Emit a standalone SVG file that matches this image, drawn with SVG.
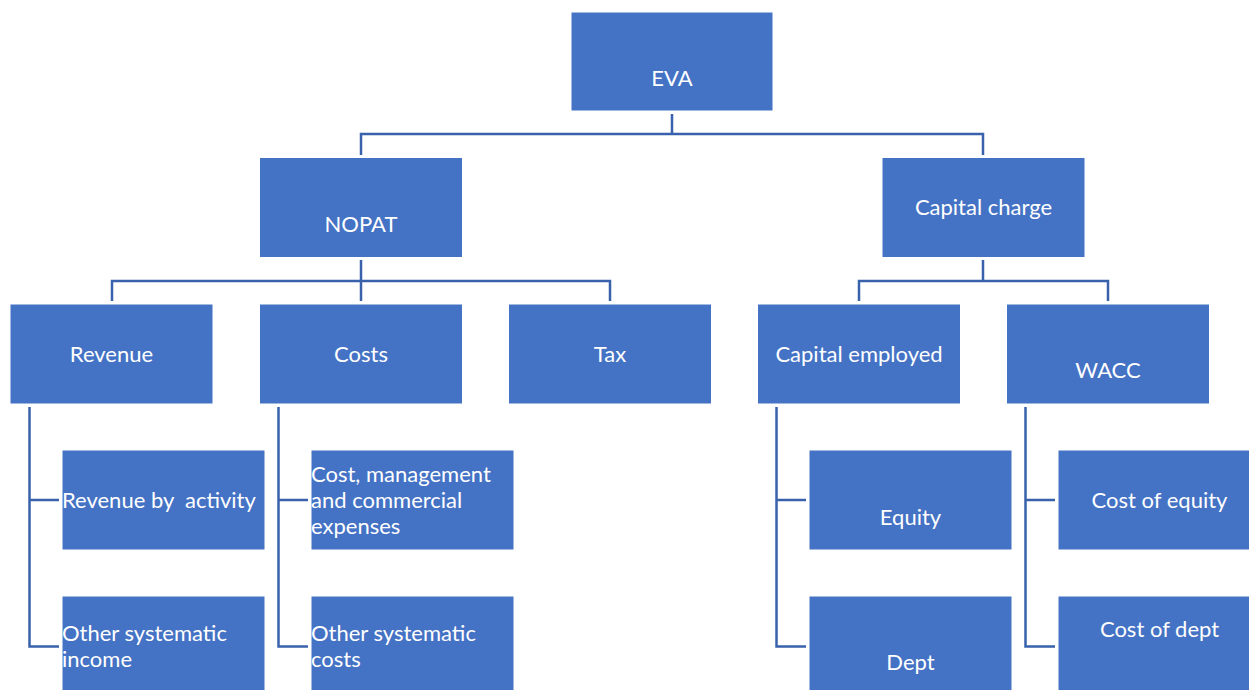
<svg xmlns="http://www.w3.org/2000/svg" width="1249" height="690" viewBox="0 0 1249 690">
  <style>
    .box { fill: #4472C4; stroke: #ffffff; stroke-width: 1; }
    .lbl { fill: #ffffff; font-family: Lato, "Open Sans", "Liberation Sans", sans-serif; font-size: 22px; white-space: pre; }
    .c { text-anchor: middle; }
    .wire { fill: none; stroke: #3A62AC; stroke-width: 2.5; }
  </style>
  <rect width="1249" height="690" fill="#ffffff"/>

  <!-- connectors -->
  <g id="connectors">
    <path class="wire" d="M672,114 V134 M361,155 V134 H983 V155"/>
    <path class="wire" d="M361,260 V301 M112,301 V281 H610 V301"/>
    <path class="wire" d="M983,260 V281 M859,301 V281 H1108 V301"/>
    <path class="wire" d="M29.5,407 V646.5 H59 M29.5,500 H59"/>
    <path class="wire" d="M278.5,407 V646.5 H308 M278.5,500 H308"/>
    <path class="wire" d="M776.5,407 V646.5 H806 M776.5,500 H806"/>
    <path class="wire" d="M1025.5,407 V646.5 H1055 M1025.5,500 H1055"/>
  </g>

  <!-- level 0 -->
  <g id="eva">
    <rect class="box" x="571" y="12" width="202" height="99"/>
    <text class="lbl c" x="672" y="86">EVA</text>
  </g>

  <!-- level 1 -->
  <g id="nopat">
    <rect class="box" x="259.5" y="157.5" width="203" height="100"/>
    <text class="lbl c" x="361" y="232">NOPAT</text>
  </g>
  <g id="capital-charge">
    <rect class="box" x="882" y="157.5" width="203" height="100"/>
    <text class="lbl c" x="983.5" y="215">Capital charge</text>
  </g>

  <!-- level 2 -->
  <g id="revenue">
    <rect class="box" x="10" y="304" width="203" height="100"/>
    <text class="lbl c" x="111.5" y="361.5">Revenue</text>
  </g>
  <g id="costs">
    <rect class="box" x="259.5" y="304" width="203" height="100"/>
    <text class="lbl c" x="361" y="361.5">Costs</text>
  </g>
  <g id="tax">
    <rect class="box" x="508.5" y="304" width="203" height="100"/>
    <text class="lbl c" x="610" y="361.5">Tax</text>
  </g>
  <g id="capital-employed">
    <rect class="box" x="757.5" y="304" width="203" height="100"/>
    <text class="lbl c" x="859" y="361.5">Capital employed</text>
  </g>
  <g id="wacc">
    <rect class="box" x="1006.5" y="304" width="203" height="100"/>
    <text class="lbl c" x="1108" y="378">WACC</text>
  </g>

  <!-- level 3 -->
  <g id="revenue-by-activity">
    <rect class="box" x="62" y="450" width="203" height="100"/>
    <text class="lbl" x="62" y="507.5">Revenue by  activity</text>
  </g>
  <g id="other-income">
    <rect class="box" x="62" y="596" width="203" height="100"/>
    <text class="lbl" x="62" y="640.5">Other systematic</text>
    <text class="lbl" x="62" y="666.5">income</text>
  </g>
  <g id="cost-management">
    <rect class="box" x="311" y="450" width="203" height="100"/>
    <text class="lbl" x="311" y="481.5">Cost, management</text>
    <text class="lbl" x="311" y="507.5">and commercial</text>
    <text class="lbl" x="311" y="533.5">expenses</text>
  </g>
  <g id="other-costs">
    <rect class="box" x="311" y="596" width="203" height="100"/>
    <text class="lbl" x="311" y="640.5">Other systematic</text>
    <text class="lbl" x="311" y="666.5">costs</text>
  </g>
  <g id="equity">
    <rect class="box" x="809" y="450" width="203" height="100"/>
    <text class="lbl c" x="910.5" y="525">Equity</text>
  </g>
  <g id="dept">
    <rect class="box" x="809" y="596" width="203" height="100"/>
    <text class="lbl c" x="910.5" y="670">Dept</text>
  </g>
  <g id="cost-of-equity">
    <rect class="box" x="1058" y="450" width="203" height="100"/>
    <text class="lbl c" x="1159.5" y="508">Cost of equity</text>
  </g>
  <g id="cost-of-dept">
    <rect class="box" x="1058" y="596" width="203" height="100"/>
    <text class="lbl c" x="1159.5" y="636.5">Cost of dept</text>
  </g>
</svg>
